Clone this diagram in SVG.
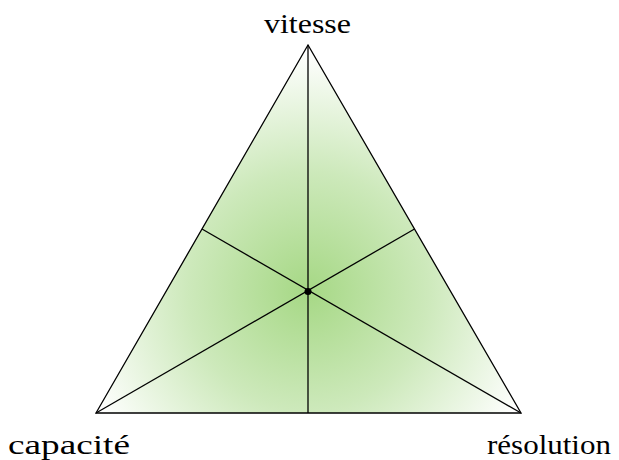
<svg xmlns="http://www.w3.org/2000/svg" width="619" height="460" viewBox="0 0 619 460">
<defs>
<radialGradient id="g" gradientUnits="userSpaceOnUse" cx="308" cy="291" r="240">
<stop offset="0" stop-color="#a6d885"/>
<stop offset="0.5" stop-color="#cde9bb"/>
<stop offset="1" stop-color="#ffffff"/>
</radialGradient>
<style>
.l{fill:none;stroke:#000;stroke-width:1.3}
.tri{fill:url(#g);stroke:#000;stroke-width:1.3}
.t{font-family:"Liberation Serif",serif;font-size:28px;fill:#000}
</style>
</defs>
<rect width="619" height="460" fill="#fff"/>
<g id="triangle">
<polygon class="tri" points="308,45 96,413 521,413"/>
</g>
<g id="connectors">
<line class="l" x1="308" y1="45" x2="308" y2="413"/>
<line class="l" x1="96" y1="413" x2="414.5" y2="229"/>
<line class="l" x1="521" y1="413" x2="202" y2="229"/>
</g>
<g id="center"><circle cx="308" cy="291.5" r="3.5" fill="#000"/></g>
<g id="vitesse"><text class="t" x="264" y="33" textLength="87" lengthAdjust="spacingAndGlyphs">vitesse</text></g>
<g id="capacite"><text class="t" x="8" y="454" textLength="122" lengthAdjust="spacingAndGlyphs">capacité</text></g>
<g id="resolution"><text class="t" x="487" y="454" textLength="124" lengthAdjust="spacingAndGlyphs">résolution</text></g>
</svg>
